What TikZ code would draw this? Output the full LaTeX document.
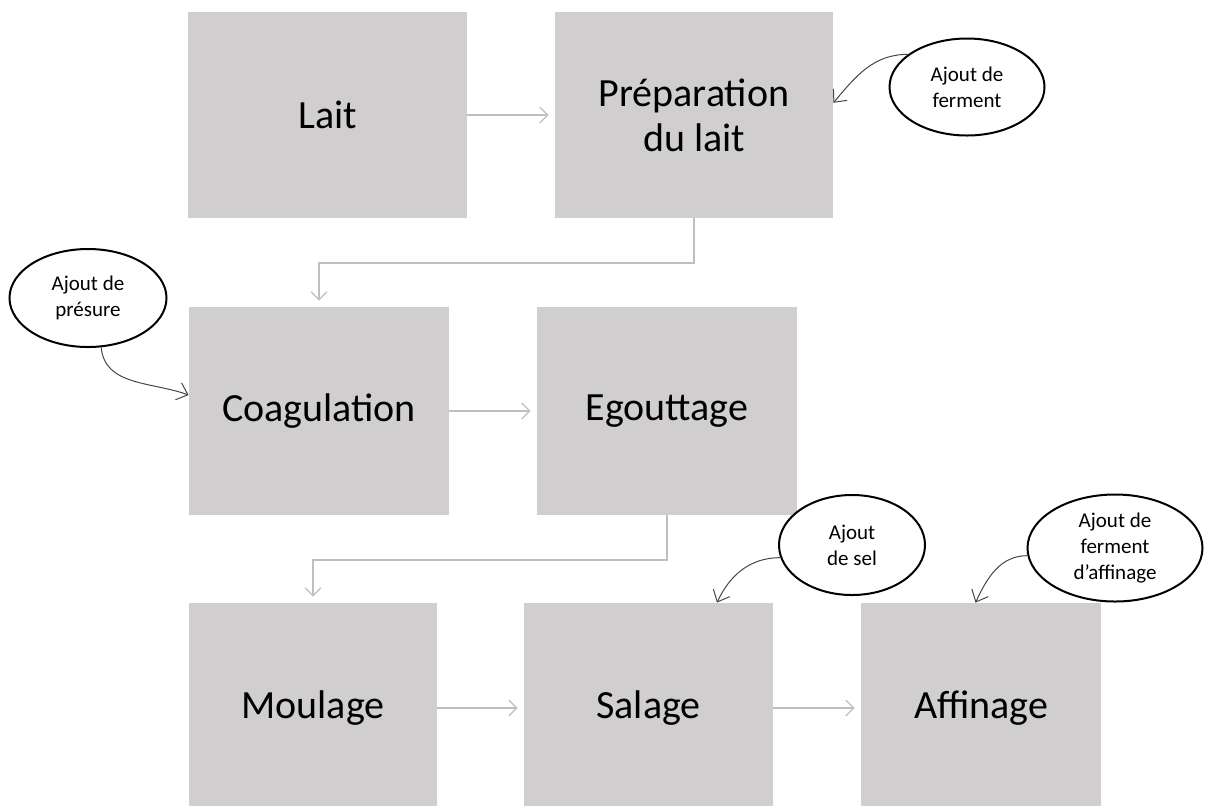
\documentclass[tikz,border=0pt]{standalone}
\usepackage{fontspec}
\setmainfont{Carlito}
\usetikzlibrary{shapes.geometric,arrows.meta}
\definecolor{boxgray}{RGB}{208,206,206}
\definecolor{linegray}{RGB}{191,191,191}
\definecolor{bubblegray}{RGB}{70,70,70}
\tikzset{
	stepbox/.style={rectangle,fill=boxgray,text=black,align=center,inner sep=0pt,font=\fontsize{20}{22.5}\selectfont},
	flow/.style={draw=linegray,line width=0.6pt,-{Straight Barb[length=4pt,width=8pt]},shorten >=3pt},
	bubble/.style={ellipse,draw=black,line width=1pt,fill=white,align=center,inner sep=0pt,font=\fontsize{10.5}{13}\selectfont},
	addarrow/.style={draw=bubblegray,line width=0.5pt,-{Straight Barb[length=5pt,width=9pt]}}
}

\begin{document}
\begin{tikzpicture}[x=0.5pt,y=-0.5pt]
	\useasboundingbox (0,0) rectangle (1220,805);
	\clip (0,0) rectangle (1220,805);

	% steps
	\node (lait)[stepbox,minimum width=139.5pt,minimum height=103pt] at (327.5,115){Lait};
	\node (prep)[stepbox,minimum width=139pt,minimum height=103pt] at (694,115){Préparation\\du lait};
	\node (coag)[stepbox,minimum width=130pt,minimum height=104pt] at (319,411){Coagulation};
	\node (egout)[stepbox,minimum width=130pt,minimum height=104pt] at (667,411){Egouttage};
	\node (moul)[stepbox,minimum width=124pt,minimum height=105pt] at (313,708){Moulage};
	\node (sal)[stepbox,minimum width=124.5pt,minimum height=105pt] at (648.5,708){Salage};
	\node (aff)[stepbox,minimum width=120pt,minimum height=105pt] at (981,708){Affinage};

	% additions
	\node (ferm)[bubble,minimum width=77.5pt,minimum height=48.5pt] at (967,87){Ajout de\\ferment};
	\node (pres)[bubble,minimum width=78.5pt,minimum height=49pt] at (88,298){Ajout de\\présure};
	\node (sel)[bubble,minimum width=73pt,minimum height=50pt] at (852,545){Ajout\\de sel};
	\node (affe)[bubble,minimum width=87.5pt,minimum height=53.5pt] at (1115,548){Ajout de\\ferment\\d’affinage};

	\draw[flow] (lait) -- (prep);
	\draw[flow] (prep.south) -- (prep.south |- 0,263) -| (coag.north);
	\draw[flow] (coag) -- (egout);
	\draw[flow] (egout.south) -- (egout.south |- 0,560) -| (moul.north);
	\draw[flow] (moul) -- (sal);
	\draw[flow] (sal) -- (aff);

	\draw[addarrow] (ferm.151) to[out=180,in=50] (prep.5);
	\draw[addarrow] (pres.285) to[out=-85,in=160] (coag.173);
	\draw[addarrow] (sel.190) to[out=180,in=65] (sal.57);
	\draw[addarrow] (affe.185) to[out=180,in=65] (aff.93);
\end{tikzpicture}
\end{document}
